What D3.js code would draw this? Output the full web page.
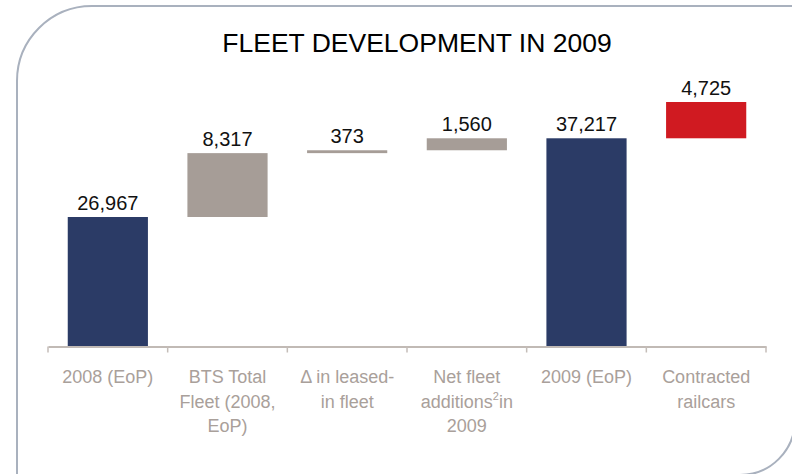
<!DOCTYPE html>
<html>
<head>
<meta charset="utf-8">
<script src="https://cdn.jsdelivr.net/npm/d3@7"></script>
<style>
  html, body { margin: 0; padding: 0; background: #ffffff; }
  svg { display: block; font-family: "Liberation Sans", Arial, sans-serif; }
</style>
</head>
<body>
<svg id="chart" width="792" height="474"></svg>
<script>
// Fleet waterfall: opening fleet, changes during the year, closing fleet, contracted railcars
const categories = ["2008 (EoP)", "BTS Total Fleet (2008, EoP)", "Δ in leased-in fleet",
                    "Net fleet additions2in 2009", "2009 (EoP)", "Contracted railcars"];
// Axis label lines; "^2" marks a superscript
const labelLines = [
  ["2008 (EoP)"],
  ["BTS Total", "Fleet (2008,", "EoP)"],
  ["Δ in leased-", "in fleet"],
  ["Net fleet", "additions^2in", "2009"],
  ["2009 (EoP)"],
  ["Contracted", "railcars"]
];
const values = [26967, 8317, 373, 1560, 37217, 4725];
const valueLabels = ["26,967", "8,317", "373", "1,560", "37,217", "4,725"];
// "total" bars stand on the axis, "step" bars float on the running total
const kinds = ["total", "step", "step", "step", "total", "extra"];
const kindColors = { total: "#2b3b66", step: "#a69d97", extra: "#d01a21" };

const axisFloor = 10170; // value axis does not start at zero

const svg = d3.select("#chart");

// Outline frame: rounded top-left and bottom-right corners
const frame = d3.path();
const L = 17, T = 6, R = 795, B = 475, r1 = 75, r2 = 55;
frame.moveTo(L, B + 5);
frame.lineTo(L, T + r1);
frame.arcTo(L, T, L + r1, T, r1);
frame.lineTo(R + 10, T);
frame.moveTo(R, B - r2 - 60);
frame.lineTo(R, B - r2);
frame.arcTo(R, B, R - r2, B, r2);
frame.lineTo(R - r2 - 20, B);
svg.append("path").attr("d", frame.toString())
  .attr("fill", "none").attr("stroke", "#a9b1be").attr("stroke-width", 2);

// Title
svg.append("text")
  .attr("x", 417).attr("y", 52)
  .attr("text-anchor", "middle")
  .attr("font-size", 26.5).attr("fill", "#000")
  .text("FLEET DEVELOPMENT IN 2009");

// Running totals give each bar's base and top
let running = 0;
const bars = values.map((v, i) => {
  const kind = kinds[i];
  let base;
  if (kind === "total") { base = 0; running = v; }
  else { base = running; running += v; }
  return { cat: categories[i], value: v, base: base, top: base + v, kind: kind, label: valueLabels[i], lines: labelLines[i] };
});

const x = d3.scaleBand()
  .domain(categories)
  .range([48, 766])
  .paddingInner(0.33)
  .paddingOuter(0.165);

const y = d3.scaleLinear()
  .domain([axisFloor, d3.max(bars, d => d.top)])
  .range([346, 102]);

// Bars
svg.append("g").selectAll("rect").data(bars).join("rect")
  .attr("x", d => x(d.cat))
  .attr("width", x.bandwidth())
  .attr("y", d => y(d.top))
  .attr("height", d => y(Math.max(d.base, axisFloor)) - y(d.top))
  .attr("fill", d => kindColors[d.kind]);

// Value labels
svg.append("g").selectAll("text").data(bars).join("text")
  .attr("x", d => x(d.cat) + x.bandwidth() / 2)
  .attr("y", d => y(d.top) - 7)
  .attr("text-anchor", "middle")
  .attr("font-size", 20).attr("fill", "#111")
  .text(d => d.label);

// Category axis: baseline with ticks at band boundaries
const axisG = svg.append("g").attr("transform", `translate(0,${y(axisFloor) + 0.5})`);
axisG.call(d3.axisBottom(x).tickSize(0).tickSizeOuter(0).tickFormat(""));
axisG.select(".domain").attr("stroke", "#aca39d").attr("stroke-width", 1.5);
const step = x.step();
const boundaries = categories.map(c => x(c) - step * x.paddingInner() / 2)
  .concat([x(categories[categories.length - 1]) + x.bandwidth() + step * x.paddingInner() / 2]);
axisG.selectAll("line.bound").data(boundaries).join("line")
  .attr("class", "bound")
  .attr("x1", d => d).attr("x2", d => d)
  .attr("y1", 0).attr("y2", 6)
  .attr("stroke", "#c4bdb8").attr("stroke-width", 1.5);

// Category labels
const labelG = svg.append("g");
bars.forEach(d => {
  const t = labelG.append("text")
    .attr("text-anchor", "middle")
    .attr("font-size", 18)
    .attr("fill", "#a9a09a");
  d.lines.forEach((line, li) => {
    const cx = x(d.cat) + x.bandwidth() / 2;
    const yy = 383 + li * 24.5;
    if (line.includes("^")) {
      const [pre, rest] = line.split("^");
      const ln = t.append("tspan").attr("x", cx).attr("y", yy);
      ln.text(pre);
      t.append("tspan").attr("dy", -8).attr("font-size", 11).text(rest[0]);
      t.append("tspan").attr("dy", 8).text(rest.slice(1));
    } else {
      t.append("tspan").attr("x", cx).attr("y", yy).text(line);
    }
  });
});
</script>
</body>
</html>
